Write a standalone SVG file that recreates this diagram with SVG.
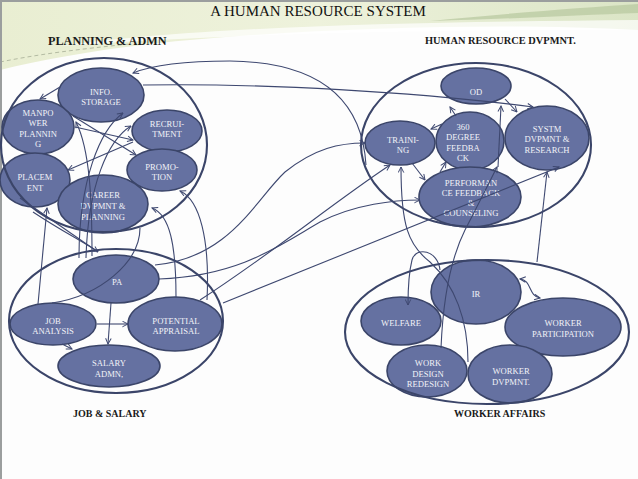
<svg xmlns="http://www.w3.org/2000/svg" width="638" height="479" viewBox="0 0 638 479">
<defs>
<linearGradient id="hg" x1="0" y1="0" x2="1" y2="0">
<stop offset="0" stop-color="#e9eed2"/>
<stop offset="0.5" stop-color="#eef2dc"/>
<stop offset="1" stop-color="#dbe5c6"/>
</linearGradient>
<marker id="ah" viewBox="0 0 10 10" refX="9" refY="5" markerWidth="7" markerHeight="7" markerUnits="userSpaceOnUse" orient="auto-start-reverse">
<path d="M1,1 L9,5 L1,9" fill="none" stroke="#3e4870" stroke-width="1.4"/>
</marker>
<style>
.node{fill:#6571a1;stroke:#3b4569;stroke-width:1.6}
.grp{fill:none;stroke:#3b4569;stroke-width:2.1}
.nt{font-family:"Liberation Serif","DejaVu Serif",serif;font-size:8.6px;fill:#f2f3f8;text-anchor:middle}
.lbl{font-family:"Liberation Serif","DejaVu Serif",serif;font-weight:bold;fill:#1a1a1a}
.c{fill:none;stroke:#3e4870;stroke-width:1.1}
.a{marker-end:url(#ah)}
</style>
</defs>
<rect width="638" height="479" fill="#fdfdfd"/>
<path d="M0,0 H638 V30 C 500,22 300,28 150,44 C 90,51 40,60 0,70 Z" fill="url(#hg)"/>
<path d="M60,46 C 200,26 420,22 638,20 L638,30 C 420,30 220,34 60,46 Z" fill="#ffffff" opacity="0.7"/>
<path d="M430,21 C 510,13 580,8 638,4 L638,13 C 580,15 510,19 430,21 Z" fill="#b7c79e" opacity="0.7"/>
<path d="M0,62 C 40,54 80,49 130,44" fill="none" stroke="#b4bba2" stroke-width="1" stroke-dasharray="4,3"/>
<path d="M1,479 V1 H638" fill="none" stroke="#9b9e9e" stroke-width="2"/>

<text x="318" y="16" style="font-family:'Liberation Serif','DejaVu Serif',serif;font-size:15px;fill:#111;text-anchor:middle">A HUMAN RESOURCE SYSTEM</text>
<text class="lbl" x="48" y="45" style="font-size:12.2px">PLANNING &amp; ADMN</text>
<text class="lbl" x="425" y="44" style="font-size:10.4px">HUMAN RESOURCE DVPMNT.</text>
<text class="lbl" x="73" y="417" style="font-size:10px">JOB &amp; SALARY</text>
<text class="lbl" x="454" y="417" style="font-size:10px">WORKER AFFAIRS</text>

<g id="info-storage"><ellipse class="node" cx="101" cy="95" rx="43" ry="27"/><text class="nt" x="101" y="94.5">INFO.</text><text class="nt" x="101" y="105">STORAGE</text></g>
<g id="manpower-planning"><ellipse class="node" cx="38" cy="127" rx="36" ry="27"/><text class="nt" x="38" y="115.5">MANPO</text><text class="nt" x="38" y="126">WER</text><text class="nt" x="38" y="136.5">PLANNIN</text><text class="nt" x="38" y="147">G</text></g>
<g id="recruitment"><ellipse class="node" cx="167" cy="131" rx="35" ry="21"/><text class="nt" x="167" y="126.5">RECRUI-</text><text class="nt" x="167" y="136.5">TMENT</text></g>
<g id="promotion"><ellipse class="node" cx="162" cy="170" rx="35" ry="21"/><text class="nt" x="162" y="169.5">PROMO-</text><text class="nt" x="162" y="179.5">TION</text></g>
<g id="placement"><ellipse class="node" cx="35" cy="180" rx="35" ry="27"/><text class="nt" x="35" y="179.5">PLACEM</text><text class="nt" x="35" y="190.5">ENT</text></g>
<g id="career"><ellipse class="node" cx="103" cy="204" rx="45" ry="29"/><text class="nt" x="103" y="197.5">CAREER</text><text class="nt" x="103" y="208.5">DVPMNT &amp;</text><text class="nt" x="103" y="219.5">PLANNING</text></g>

<g id="od"><ellipse class="node" cx="476" cy="86" rx="35" ry="18"/><text class="nt" x="476" y="94.5">OD</text></g>
<g id="training"><ellipse class="node" cx="400" cy="143" rx="35" ry="22"/><text class="nt" x="403" y="142.5">TRAINI-</text><text class="nt" x="403" y="152.5">NG</text></g>
<g id="feedback360"><ellipse class="node" cx="470" cy="141" rx="34" ry="29"/><text class="nt" x="463" y="129.5">360</text><text class="nt" x="463" y="139.5">DEGREE</text><text class="nt" x="463" y="150.5">FEEDBA</text><text class="nt" x="463" y="160.5">CK</text></g>
<g id="systm"><ellipse class="node" cx="547" cy="138" rx="42" ry="32"/><text class="nt" x="547" y="131.5">SYSTM</text><text class="nt" x="547" y="141.5">DVPMNT &amp;</text><text class="nt" x="547" y="152.5">RESEARCH</text></g>
<g id="performance"><ellipse class="node" cx="470" cy="197" rx="51" ry="30"/><text class="nt" x="471" y="185.5">PERFORMAN</text><text class="nt" x="471" y="195.5">CE FEEDBACK</text><text class="nt" x="471" y="205.5">&amp;</text><text class="nt" x="471" y="215.5">COUNSELING</text></g>

<g id="pa"><ellipse class="node" cx="116" cy="279" rx="43" ry="24"/><text class="nt" x="117" y="284.5">PA</text></g>
<g id="job-analysis"><ellipse class="node" cx="53" cy="324" rx="43" ry="21"/><text class="nt" x="53" y="323.5">JOB</text><text class="nt" x="53" y="333.5">ANALYSIS</text></g>
<g id="potential"><ellipse class="node" cx="175" cy="324" rx="47" ry="27"/><text class="nt" x="176" y="323.5">POTENTIAL</text><text class="nt" x="176" y="333.5">APPRAISAL</text></g>
<g id="salary"><ellipse class="node" cx="109" cy="366" rx="51" ry="21"/><text class="nt" x="109" y="365.5">SALARY</text><text class="nt" x="109" y="376.5">ADMN,</text></g>

<g id="ir"><ellipse class="node" cx="476" cy="292" rx="45" ry="32"/><text class="nt" x="476" y="296.5">IR</text></g>
<g id="welfare"><ellipse class="node" cx="401" cy="321" rx="40" ry="24"/><text class="nt" x="401" y="325.5">WELFARE</text></g>
<g id="worker-participation"><ellipse class="node" cx="563" cy="327" rx="58" ry="29"/><text class="nt" x="563" y="325.5">WORKER</text><text class="nt" x="563" y="336.5">PARTICIPATION</text></g>
<g id="work-design"><ellipse class="node" cx="427" cy="371" rx="40" ry="26"/><text class="nt" x="428" y="365.5">WORK</text><text class="nt" x="428" y="376.5">DESIGN</text><text class="nt" x="428" y="386.5">REDESIGN</text></g>
<g id="worker-dvpmnt"><ellipse class="node" cx="510" cy="374" rx="42" ry="29"/><text class="nt" x="511" y="373.5">WORKER</text><text class="nt" x="511" y="384.5">DVPMNT.</text></g>

<g id="groups">
<ellipse class="grp" cx="104" cy="145" rx="103" ry="87"/>
<ellipse class="grp" cx="476" cy="145" rx="115" ry="82"/>
<ellipse class="grp" cx="116" cy="321" rx="107" ry="72"/>
<ellipse class="grp" cx="487" cy="332" rx="142" ry="72"/>
</g>

<g id="connectors">
<path class="c a" d="M366,165 C362,100 320,62 230,61 C180,61 150,66 133,73"/>
<path class="c a" d="M143,85 C260,83 420,92 533,107"/>
<path class="c a" d="M155,265 C230,258 255,200 285,172 C315,148 340,143 365,143"/>
<path class="c a" d="M159,279 C240,276 280,245 320,222 C355,204 395,200 420,200"/>
<path class="c a" d="M200,300 C270,255 330,205 390,165"/>
<path class="c a" d="M223,303 L559,167"/>
<path class="c a" d="M537,262 L547,172"/>
<path class="c a" d="M468,362 C468,320 455,285 430,262 C408,245 401,225 401,167"/>
<path class="c a" d="M441,348 C443,300 450,260 465,230 C478,205 488,185 497,167"/>
<path class="c a" d="M498,167 L501,106"/>
<path class="c a" d="M456,116 L450,107"/>
<path class="c a" d="M505,99 L517,112"/>
<path class="c a" d="M442,124 L431,129"/>
<path class="c a" d="M440,172 L446,162"/>
<path class="c a" d="M412,163 L425,180"/>
<path class="c a" d="M520,279 C532,280 528,296 540,298" style="marker-start:url(#ah)"/>
<path class="c a" d="M440,270 C438,250 416,246 412,260 C409,272 408,290 408,305"/>
<path class="c a" d="M60,87 L40,99"/>
<path class="c a" d="M75,127 L133,140"/>
<path class="c a" d="M73,116 L136,155"/>
<path class="c a" d="M133,142 L68,170"/>
<path class="c a" d="M38,304 L47,208"/>
<path class="c a" d="M79,258 C79,180 100,130 123,113"/>
<path class="c a" d="M86,258 C88,185 108,140 131,126"/>
<path class="c a" d="M176,297 C176,245 170,215 152,208"/>
<path class="c a" d="M207,300 C210,240 200,200 180,191"/>
<path class="c a" d="M20,198 L98,252"/>
<path class="c" d="M33,212 C60,230 80,240 97,251"/>
<path class="c a" d="M92,256 C92,200 90,150 76,122"/>
<path class="c" d="M140,228 C140,262 100,296 52,303"/>
<path class="c a" d="M111,303 L108,344"/>
<path class="c a" d="M97,324 L128,324"/>
<path class="c a" d="M62,344 L72,349"/>
</g>
</svg>
